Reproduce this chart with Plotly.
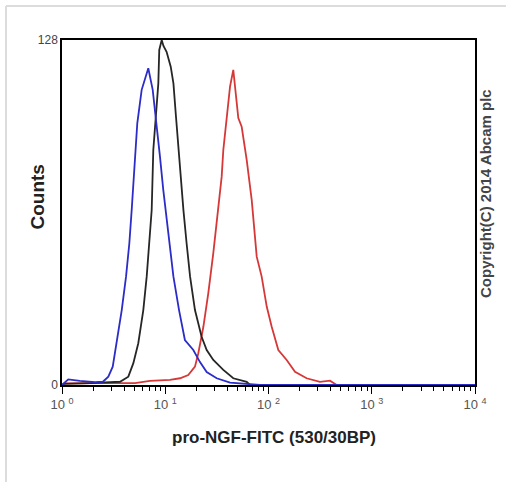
import plotly.graph_objects as go

# ---- data ----
blue_x = [1.0, 1.05, 1.15, 1.49, 2.09, 2.49, 2.81, 3.10, 3.39, 3.79, 4.17, 4.49, 4.73, 5.09, 5.36, 5.91,
          6.85, 7.56, 8.13, 8.89, 9.57, 10.2, 10.9, 12.0, 13.6, 15.5, 18.7, 21.7, 25.2, 31.5, 42.4,
          61.5, 82.7, 10000]
blue_y = [0, 0.7, 2.1, 1.5, 1.1, 1.2, 3.1, 6.8, 15.5, 27.8, 40.2, 52.6, 64.9, 84.7, 97.1, 109.5,
          117.5, 109.5, 97.1, 84.7, 72.4, 63.1, 52.6, 40.2, 27.8, 16.7, 13.0, 8.5, 4.8, 2.5, 0.9,
          0.4, 0, 0]

black_x = [1.0, 1.05, 1.87, 2.92, 3.65, 4.39, 4.91, 5.48, 6.13, 6.61, 7.01, 7.39, 7.66, 8.13, 8.57,
           8.75, 9.24, 9.61, 10.3, 11.3, 12.0, 12.7, 13.4, 14.2, 15.0, 16.1, 17.4, 19.4, 22.5, 25.2,
           29.2, 36.5, 45.6, 61.5, 66.2]
black_y = [0, 0.4, 0.7, 1.1, 1.2, 3.1, 8.1, 15.5, 27.8, 40.2, 52.6, 64.9, 87.2, 99.6, 111.9,
           124.3, 128, 125.8, 123.6, 118.1, 111.9, 99.6, 87.2, 74.8, 64.9, 52.6, 40.2, 27.8, 17.9, 13.0,
           9.3, 5.6, 2.5, 1.2, 0]

red_x = [1.0, 1.05, 2.33, 5.09, 7.11, 11.1, 13.9, 16.7, 19.4, 20.9, 23.4, 26.1, 29.2, 32.6, 35.2,
         36.5, 39.4, 42.4, 45.6, 49.2, 51.0, 55.0, 61.5, 68.8, 76.9, 85.9, 96.1, 107.4, 124.5, 150,
         180.6, 234, 315, 394, 458]
red_y = [0, 0.6, 0.7, 0.7, 1.5, 1.9, 2.5, 3.7, 6.8, 11.8, 21.6, 34.0, 48.9, 64.9, 77.3,
         87.2, 98.3, 110.7, 116.9, 105.8, 99.0, 95.8, 83.5, 68.6, 47.6, 40.2, 29.1, 21.6, 13.0, 9.3,
         4.9, 2.5, 1.2, 1.6, 0]

x_major = [1, 10, 100, 1000, 10000]
x_major_text = ["10 <sup>0</sup>", "10 <sup>1</sup>", "10 <sup>2</sup>", "10 <sup>3</sup>", "10 <sup>4</sup>"]
x_minor = [m * d for d in [1, 10, 100, 1000] for m in range(2, 10)]
y_ticks = [0, 128]
y_text = ["0", "128"]

FONT = "Arial, Liberation Sans, sans-serif"

fig = go.Figure()
fig.add_trace(go.Scatter(x=red_x, y=red_y, mode="lines", line=dict(color="#d63838", width=1.8)))
fig.add_trace(go.Scatter(x=black_x, y=black_y, mode="lines", line=dict(color="#262626", width=1.8)))
fig.add_trace(go.Scatter(x=blue_x, y=blue_y, mode="lines", line=dict(color="#2c2cc8", width=1.8)))

W, H = 506, 482
L, R, T, B = 62, 31, 40, 97
pw, ph = W - L - R, H - T - B

def px(x):
    return (x - L) / pw

def py(y):
    return (H - B - y) / ph

fig.update_layout(
    width=W, height=H,
    margin=dict(l=L, r=R, t=T, b=B),
    paper_bgcolor="white", plot_bgcolor="white",
    showlegend=False,
    font=dict(family=FONT, color="#333"),
    xaxis=dict(
        type="log", range=[0, 4],
        tickmode="array", tickvals=x_major, ticktext=x_major_text,
        ticks="outside", ticklen=7, tickwidth=1, tickcolor="black",
        minor=dict(tickmode="array", tickvals=x_minor, ticks="outside", ticklen=4, tickcolor="black", showgrid=False),
        showline=True, linecolor="black", linewidth=1.5, mirror=True,
        showgrid=False, zeroline=False,
        tickfont=dict(size=13, color="#555"),
    ),
    yaxis=dict(
        range=[0, 128],
        tickmode="array", tickvals=y_ticks, ticktext=y_text,
        ticks="", showline=True, linecolor="black", linewidth=1.5, mirror=True,
        showgrid=False, zeroline=False,
        tickfont=dict(size=12, color="#444"),
    ),
    annotations=[
        dict(text="<b>pro-NGF-FITC (530/30BP)</b>", xref="paper", yref="paper",
             x=px(274), y=py(437), xanchor="center", yanchor="middle", showarrow=False,
             font=dict(size=17, color="#222", family=FONT)),
        dict(text="<b>Counts</b>", xref="paper", yref="paper",
             x=px(36.5), y=py(197), xanchor="center", yanchor="middle", textangle=-90, showarrow=False,
             font=dict(size=19, color="#222", family=FONT)),
        dict(text="<b>Copyright(C) 2014 Abcam plc</b>", xref="paper", yref="paper",
             x=px(485), y=py(194), xanchor="center", yanchor="middle", textangle=-90, showarrow=False,
             font=dict(size=15, color="#444", family=FONT)),
    ],
    shapes=[
        dict(type="line", xref="paper", yref="paper", x0=px(6), x1=px(506), y0=py(6), y1=py(6),
             line=dict(color="#dcdcdc", width=2)),
        dict(type="line", xref="paper", yref="paper", x0=px(6), x1=px(6), y0=py(6), y1=py(482),
             line=dict(color="#dcdcdc", width=2)),
    ],
)

fig.write_html("out.html", config={"displayModeBar": False},
               post_script="document.body.style.margin='0';")
